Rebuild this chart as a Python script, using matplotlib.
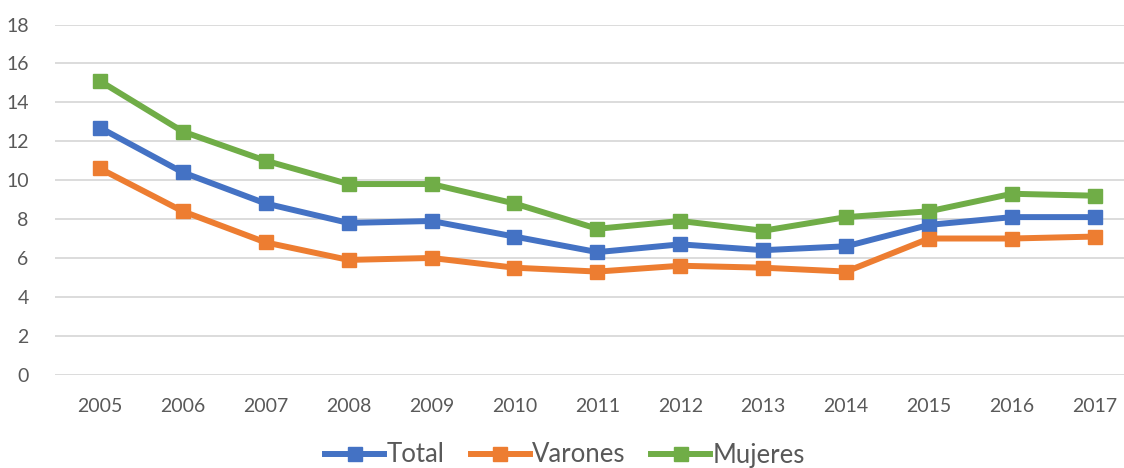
import matplotlib
matplotlib.use("Agg")
import matplotlib.pyplot as plt

years = [2005, 2006, 2007, 2008, 2009, 2010, 2011, 2012, 2013, 2014, 2015, 2016, 2017]
total = [12.7, 10.4, 8.8, 7.8, 7.9, 7.1, 6.3, 6.7, 6.4, 6.6, 7.7, 8.1, 8.1]
varones = [10.6, 8.4, 6.8, 5.9, 6.0, 5.5, 5.3, 5.6, 5.5, 5.3, 7.0, 7.0, 7.1]
mujeres = [15.1, 12.5, 11.0, 9.8, 9.8, 8.8, 7.5, 7.9, 7.4, 8.1, 8.4, 9.3, 9.2]
yticks = [0, 2, 4, 6, 8, 10, 12, 14, 16, 18]

plt.rcParams['font.family'] = ['Lato', 'DejaVu Sans']
text_color = '#595959'

fig = plt.figure(figsize=(11.24, 4.68), dpi=100)
ax = fig.add_axes([55 / 1124, 0.1994, 1 - 55 / 1124, 0.9476 - 0.1994])

x = list(range(len(years)))
series = [("Total", total, '#4472C4'),
          ("Varones", varones, '#ED7D31'),
          ("Mujeres", mujeres, '#70AD47')]
for name, vals, col in series:
    ax.plot(x, vals, color=col, lw=4.3, marker='s', markersize=10.5,
            label=name, solid_joinstyle='round')

ax.set_ylim(0, 18)
ax.set_xlim(-0.54, 12.35)
ax.set_yticks(yticks)
ax.set_xticks(x)
ax.set_xticklabels([str(y) for y in years])
ax.grid(axis='y', color='#D9D9D9', lw=1.3)
ax.set_axisbelow(True)
for s in ax.spines.values():
    s.set_visible(False)
ax.tick_params(length=0, labelsize=14, colors=text_color)
ax.tick_params(axis='y', pad=19)
ax.tick_params(axis='x', pad=17)

fig.legend(loc='center', bbox_to_anchor=(0.503, 13 / 468), ncol=3, frameon=False,
           fontsize=18.5, labelcolor=text_color, handlelength=2.3,
           handletextpad=0.1, columnspacing=1.0)

fig.savefig("out.png", dpi=100)
